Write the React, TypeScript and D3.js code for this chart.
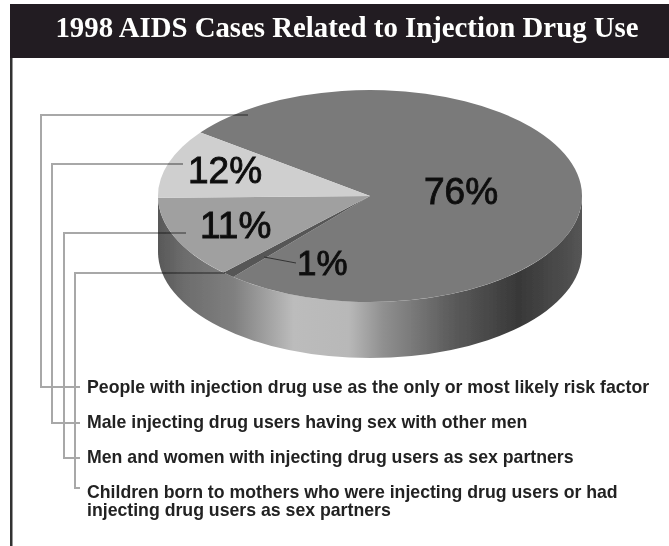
import * as d3 from 'd3'

const title = '1998 AIDS Cases Related to Injection Drug Use'

// order runs clockwise from the upper left edge of the big slice
const sliceLabels = ['76%', '1%', '11%', '12%']
// share of the ellipse each slice takes as drawn; the tilt of the picture
// widens the 11% slice and narrows the 12% one compared to the printed numbers
const drawnShares = [75.9, 1, 12.6, 10.5]
const sliceColors = ['#7a7a7a', '#565656', '#a0a0a0', '#cfcfcf']

const riskGroups = [
  ['People with injection drug use as the only or most likely risk factor'],
  ['Male injecting drug users having sex with other men'],
  ['Men and women with injecting drug users as sex partners'],
  ['Children born to mothers who were injecting drug users or had', 'injecting drug users as sex partners'],
]

const wallOffsets = [0, 0.06, 0.18, 0.32, 0.45, 0.53, 0.69, 0.85, 1]
const wallShades = ['#585858', '#6c6c6c', '#808080', '#bcbcbc', '#b8b8b8', '#909090', '#5c5c5c', '#383838', '#555555']

const width = 669
const height = 546
const cx = 370
const cy = 196
const rx = 212
const ry = 106
const depth = 56
const startAngle = (-53.1 * Math.PI) / 180

const pie = d3.pie<number>().sort(null).startAngle(startAngle).endAngle(startAngle + 2 * Math.PI)
const arc = d3.arc<d3.PieArcDatum<number>>().innerRadius(0).outerRadius(1)
const slices = pie(drawnShares)

const wallPath = () =>
  `M${cx - rx},${cy}A${rx},${ry} 0 0 0 ${cx + rx},${cy}L${cx + rx},${cy + depth}A${rx},${ry} 0 0 1 ${cx - rx},${cy + depth}Z`

// leader lines, from the slice to the left gutter and down to the text row
const leaderPoints: [number, number][][] = [
  [[248, 115], [41, 115], [41, 387], [80, 387]],
  [[183, 164], [52, 164], [52, 423], [80, 423]],
  [[186, 233], [64, 233], [64, 458], [80, 458]],
  [[225, 273], [75, 273], [75, 488], [80, 488]],
]
const leaderLine = d3.line()

const labelSpots = [
  { x: 424, y: 204, size: 37 },
  { x: 297, y: 275, size: 35 },
  { x: 200, y: 238, size: 37 },
  { x: 188, y: 183, size: 37 },
]
const rowBaselines = [392.5, 427.5, 462.5, 498]

export default function App() {
  return (
    <svg
      width={width}
      height={height}
      viewBox={`0 0 ${width} ${height}`}
      style={{ position: 'absolute', left: 0, top: 0, background: '#fff' }}
    >
      <defs>
        <linearGradient id="wall" gradientUnits="userSpaceOnUse" x1={cx - rx} x2={cx + rx} y1={0} y2={0}>
          {wallOffsets.map((o, i) => (
            <stop key={i} offset={o} stopColor={wallShades[i]} />
          ))}
        </linearGradient>
        <filter id="soft" x="0" y="0" width="100%" height="100%">
          <feGaussianBlur stdDeviation="0.5" />
        </filter>
      </defs>

      <g filter="url(#soft)">
        <rect x={10} y={4} width={width - 10} height={54} fill="#231f20" />
        <rect x={10} y={58} width={2.5} height={height - 58} fill="#333" />
        <text
          x={347}
          y={36.5}
          textAnchor="middle"
          fill="#fff"
          fontFamily="'Liberation Serif', serif"
          fontWeight="700"
          fontSize={28.8}
        >
          {title}
        </text>

        <path d={wallPath()} fill="url(#wall)" />
        <g transform={`translate(${cx},${cy}) scale(${rx},${ry})`}>
          {slices.map((s, i) => (
            <path key={i} d={arc(s) ?? ''} fill={sliceColors[i]} />
          ))}
        </g>

        <g fill="none" stroke="#a8a8a8" strokeWidth={2} style={{ mixBlendMode: 'multiply' }}>
          {leaderPoints.map((pts, i) => (
            <path key={i} d={leaderLine(pts) ?? ''} />
          ))}
        </g>
        <path d={leaderLine([[264, 257], [296, 263]]) ?? ''} stroke="#333" strokeWidth={1} fill="none" />

        <g fontFamily="'Liberation Sans', Arial, sans-serif" fill="#111" stroke="#111" strokeWidth={0.9}>
          {sliceLabels.map((t, i) => (
            <text key={t} x={labelSpots[i].x} y={labelSpots[i].y} fontSize={labelSpots[i].size}>
              {t}
            </text>
          ))}
        </g>

        <g fontFamily="'Liberation Sans', Arial, sans-serif" fontWeight="700" fontSize={17.7} fill="#222">
          {riskGroups.map((lines, i) =>
            lines.map((line, j) => (
              <text key={line} x={87} y={rowBaselines[i] + j * 18}>
                {line}
              </text>
            )),
          )}
        </g>
      </g>
    </svg>
  )
}
